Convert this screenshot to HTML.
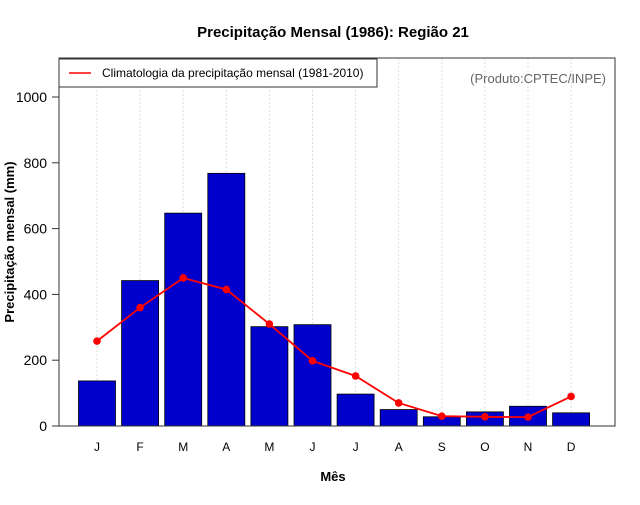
<!DOCTYPE html>
<html><head><meta charset="utf-8"><style>body{margin:0;background:#fff}svg{font-family:"Liberation Sans",sans-serif}</style></head>
<body>
<svg id="c" width="640" height="500">
<text x="333" y="37" text-anchor="middle" font-weight="bold" font-size="15">Precipitação Mensal (1986): Região 21</text>
<text x="333" y="481" text-anchor="middle" font-weight="bold" font-size="13">Mês</text>
<text transform="translate(14,242) rotate(-90)" text-anchor="middle" font-weight="bold" font-size="13">Precipitação mensal (mm)</text>
<g id="grid"></g><g id="bars"></g><g id="line"></g><g id="axes"></g>
<rect x="59" y="58" width="556" height="368" fill="none" stroke="#333"/>
<g>
<rect x="59" y="59" width="318" height="28" fill="#fff" stroke="#333"/>
<line x1="69" y1="73" x2="91" y2="73" stroke="red" stroke-width="1.5"/>
<text x="102" y="77" font-size="12">Climatologia da precipitação mensal (1981-2010)</text>
</g>
<text x="606" y="83" text-anchor="end" font-size="13" fill="#666">(Produto:CPTEC/INPE)</text>
</svg>
<script>
const months=["J","F","M","A","M","J","J","A","S","O","N","D"];
const obs=[137,442,647,768,302,308,97,50,28,43,60,40];
const clim=[258,360,450,415,310,198,152,70,30,28,27,90];
const yTicks=[0,200,400,600,800,1000];
const NS="http://www.w3.org/2000/svg";
const x=i=>97+i*43.1, y=v=>426-v*0.329;
function mk(t,a,p){const e=document.createElementNS(NS,t);for(const k in a)e.setAttribute(k,a[k]);p.appendChild(e);return e;}
const g=document.getElementById('grid'),b=document.getElementById('bars'),l=document.getElementById('line'),ax=document.getElementById('axes');
months.forEach((m,i)=>{
 const gl=mk('line',{x1:x(i),x2:x(i),y1:58,y2:426,stroke:'#ddd','stroke-dasharray':'2,2'},g);
 
 
 const r=mk('rect',{x:x(i)-18.5,y:y(obs[i]),width:37,height:obs[i]*0.329,fill:'#0000cd',stroke:'#000','stroke-width':0.8},b);
 
 
 const tk=mk('line',{x1:x(i),x2:x(i),y1:426,y2:426},ax);
 const t=mk('text',{x:x(i),y:451,'text-anchor':'middle','font-size':12},ax);t.textContent=m;
 
 
});
mk('polyline',{points:clim.map((v,i)=>x(i)+','+y(v)).join(' '),fill:'none',stroke:'red','stroke-width':1.8},l);
clim.forEach((v,i)=>{const c=mk('circle',{cx:x(i),cy:y(v),r:3.8,fill:'red'},l);
 
 });
yTicks.forEach(v=>{mk('line',{x1:52,x2:59,y1:y(v),y2:y(v),stroke:'#333'},ax);
 const t=mk('text',{x:47,y:y(v)+5,'text-anchor':'end','font-size':14},ax);t.textContent=v;
 
 });
</script>
</body></html>
